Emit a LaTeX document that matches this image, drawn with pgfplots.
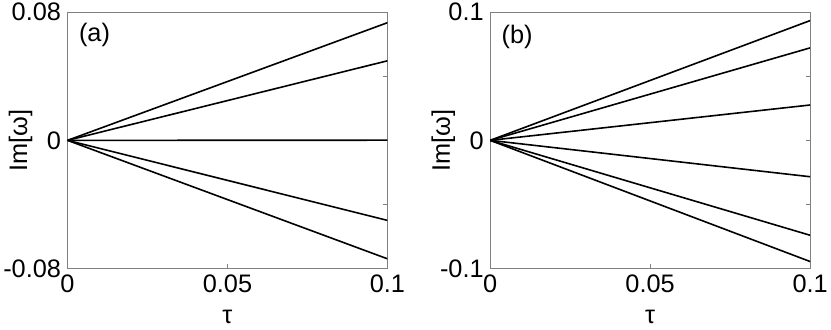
\documentclass[border=0pt]{standalone}
\usepackage{fontspec}
\setmainfont{Liberation Sans}
\usepackage{pgfplots}
\pgfplotsset{compat=1.18}

\pgfplotsset{
  panel/.style={
    scale only axis, width=321bp, height=257bp,
    xmin=0, xmax=0.1,
    scaled ticks=false,
    xtick={0,0.05,0.1}, xticklabels={0,0.05,0.1},
    xtick pos=bottom, ytick pos=right, yticklabel pos=left,
    tick align=inside, major tick length=4bp,
    axis line style={gray, line width=0.6bp},
    tick style={gray, line width=0.6bp},
    tick label style={font=\fontsize{25.5}{28}\selectfont, black},
    label style={font=\fontsize{25.5}{28}\selectfont},
    xticklabel style={yshift=-3bp},
    yticklabel style={xshift=-3bp},
    xlabel={τ}, ylabel={Im[ω]},
    xlabel style={at={([yshift=-55bp]rel axis cs:0.5,0)}, anchor=base,
      text depth=6bp, inner sep=0pt},
    ylabel style={at={([xshift=-47bp]rel axis cs:0,0.5)}, anchor=center},
    every axis plot post/.append style={black, solid, line width=1.6bp, mark=none},
  }
}

\begin{document}
\begin{tikzpicture}
\begin{axis}[panel, ymin=-0.08, ymax=0.08,
  ytick={-0.08,-0.04,0,0.04,0.08}, yticklabels={-0.08,,0,,0.08}]
  \addplot coordinates {(0,0) (0.1,0.0735)};
  \addplot coordinates {(0,0) (0.1,0.0497)};
  \addplot coordinates {(0,0) (0.1,0.0001)};
  \addplot coordinates {(0,0) (0.1,-0.0500)};
  \addplot coordinates {(0,0) (0.1,-0.0740)};
  \node[anchor=west, font=\fontsize{25.5}{28}\selectfont] at (rel axis cs:0.025,0.91) {(a)};
\end{axis}
\begin{axis}[panel, at={(424bp,0)}, ymin=-0.1, ymax=0.1,
  ytick={-0.1,-0.05,0,0.05,0.1}, yticklabels={-0.1,,0,,0.1}]
  \addplot coordinates {(0,0) (0.1,0.0935)};
  \addplot coordinates {(0,0) (0.1,0.0722)};
  \addplot coordinates {(0,0) (0.1,0.0276)};
  \addplot coordinates {(0,0) (0.1,-0.0284)};
  \addplot coordinates {(0,0) (0.1,-0.0741)};
  \addplot coordinates {(0,0) (0.1,-0.0946)};
  \node[anchor=west, font=\fontsize{25.5}{28}\selectfont] at (rel axis cs:0.025,0.905) {(b)};
\end{axis}
\end{tikzpicture}
\end{document}
